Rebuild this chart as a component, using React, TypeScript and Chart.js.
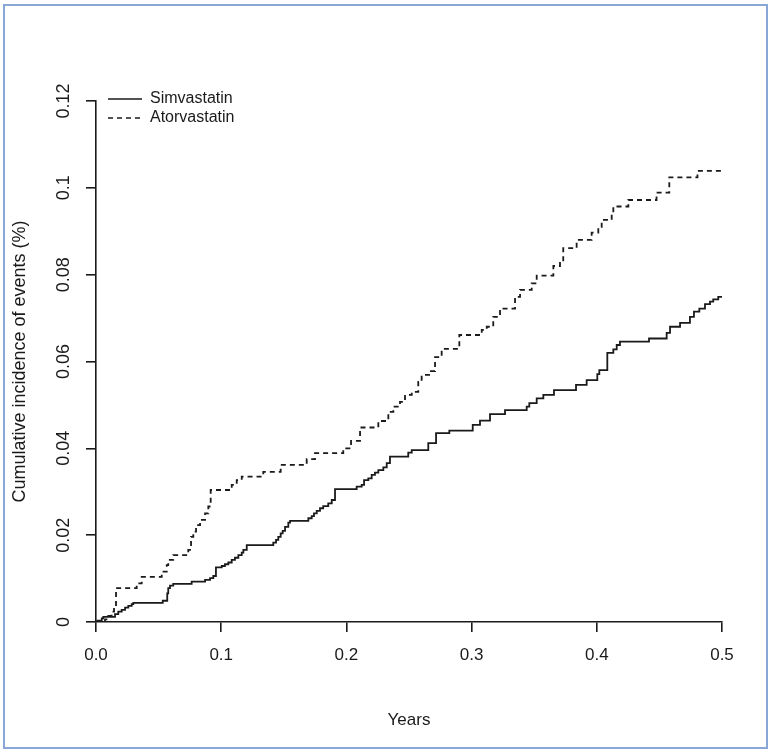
import React, { useEffect, useRef } from "react";
import { Chart, registerables } from "chart.js";

Chart.register(...registerables);

// ---- data ----
const seriesNames = ["Simvastatin", "Atorvastatin"];

const simvYears = [
  0, 0.001, 0.0046, 0.0058, 0.0152, 0.0178, 0.0205, 0.0232, 0.0258, 0.0285,
  0.0298, 0.0533, 0.0569, 0.0577, 0.0591, 0.0617, 0.0764, 0.0871, 0.0911, 0.0937,
  0.0958, 0.1004, 0.103, 0.1057, 0.1084, 0.111, 0.1137, 0.1164, 0.1177, 0.1204,
  0.1416, 0.1438, 0.1456, 0.1475, 0.1491, 0.151, 0.1536, 0.155, 0.1696, 0.1723,
  0.1741, 0.1763, 0.1789, 0.1815, 0.1855, 0.1883, 0.1909, 0.2082, 0.2122, 0.2141,
  0.2175, 0.2202, 0.2228, 0.2255, 0.2295, 0.2322, 0.2348, 0.2494, 0.2522, 0.2654,
  0.2716, 0.2822, 0.3009, 0.3067, 0.3147, 0.3267, 0.344, 0.3461, 0.352, 0.3573,
  0.3658, 0.3834, 0.3919, 0.4004, 0.402, 0.4084, 0.4132, 0.4159, 0.4185, 0.4417,
  0.4558, 0.4585, 0.4665, 0.4744, 0.4776, 0.4819, 0.4864, 0.4904, 0.493, 0.497,
  0.5,
];
const simvIncidence = [
  0, 0.0003, 0.00085, 0.0012, 0.0018, 0.0024, 0.0028, 0.0033, 0.0037, 0.0041,
  0.0044, 0.0049, 0.0066, 0.0078, 0.0084, 0.0088, 0.0093, 0.0097, 0.0101, 0.0106,
  0.0126, 0.0129, 0.0133, 0.0137, 0.0143, 0.0148, 0.0154, 0.016, 0.0166, 0.0177,
  0.0183, 0.0189, 0.0196, 0.0204, 0.021, 0.0219, 0.0229, 0.0233, 0.0239, 0.0244,
  0.025, 0.0256, 0.0262, 0.0267, 0.0273, 0.0281, 0.0306, 0.0312, 0.0316, 0.0327,
  0.0331, 0.0339, 0.0344, 0.035, 0.0356, 0.0366, 0.0381, 0.039, 0.0396, 0.0412,
  0.0435, 0.0441, 0.0454, 0.0464, 0.0479, 0.0488, 0.0496, 0.0504, 0.0515, 0.0523,
  0.0534, 0.0546, 0.0557, 0.0571, 0.058, 0.062, 0.0628, 0.0638, 0.0646, 0.0653,
  0.0666, 0.068, 0.0689, 0.0703, 0.0715, 0.0722, 0.0732, 0.0738, 0.0743, 0.0749,
  0.0749,
];

const atorYears = [
  0, 0.0032, 0.0072, 0.0098, 0.0125, 0.0144, 0.016, 0.0325, 0.0365, 0.0525,
  0.0565, 0.0577, 0.0617, 0.0737, 0.0759, 0.0777, 0.0799, 0.0831, 0.0871, 0.0897,
  0.0916, 0.1084, 0.1124, 0.1164, 0.1336, 0.1475, 0.1683, 0.1749, 0.1975, 0.2037,
  0.2109, 0.2255, 0.2335, 0.2375, 0.2428, 0.2468, 0.2522, 0.2574, 0.2601, 0.2668,
  0.2708, 0.2761, 0.2902, 0.3081, 0.3121, 0.3173, 0.3227, 0.3347, 0.3387, 0.348,
  0.352, 0.3653, 0.3706, 0.3732, 0.3839, 0.3959, 0.4012, 0.4039, 0.4119, 0.4132,
  0.4252, 0.4477, 0.4579, 0.4804, 0.5,
];
const atorIncidence = [
  0, 0.0002, 0.0006, 0.0014, 0.0024, 0.0039, 0.0078, 0.0089, 0.0104, 0.0116,
  0.0131, 0.0143, 0.0154, 0.0166, 0.0196, 0.0208, 0.0223, 0.0235, 0.025, 0.0266,
  0.0304, 0.0316, 0.0327, 0.0335, 0.0346, 0.0362, 0.0375, 0.0389, 0.04, 0.0417,
  0.0448, 0.0463, 0.0484, 0.0496, 0.0507, 0.0523, 0.053, 0.0553, 0.0569, 0.0578,
  0.061, 0.0629, 0.0661, 0.0673, 0.068, 0.0703, 0.0722, 0.0749, 0.0765, 0.078,
  0.0798, 0.082, 0.0833, 0.0861, 0.088, 0.0897, 0.091, 0.0926, 0.0941, 0.0957,
  0.0972, 0.0989, 0.1024, 0.1039, 0.1039,
];

const seriesDash = [[], [5, 4]];

const xTickValues = [0, 0.1, 0.2, 0.3, 0.4, 0.5];
const xTickLabels = ["0.0", "0.1", "0.2", "0.3", "0.4", "0.5"];
const yTickValues = [0, 0.02, 0.04, 0.06, 0.08, 0.1, 0.12];
const yTickLabels = ["0", "0.02", "0.04", "0.06", "0.08", "0.1", "0.12"];
const xTitle = "Years";
const yTitle = "Cumulative incidence of events (%)";

const FONT = "'Liberation Sans', Arial, Helvetica, sans-serif";
const INK = "#1a1a1a";
const LINE_W = 1.8;

export default function App() {
  const ref = useRef<HTMLCanvasElement>(null);

  useEffect(() => {
    const legendNudge = {
      id: "legendNudge",
      afterLayout(chart: any) {
        const lg = chart.legend;
        if (lg) {
          lg.left = chart.chartArea.left + 9;
          lg.top = chart.chartArea.top - 13;
        }
      },
    };

    const baseGen = (Chart.defaults as any).plugins.legend.labels.generateLabels;

    const chart = new Chart(ref.current as HTMLCanvasElement, {
      type: "line",
      data: {
        datasets: [
          {
            label: seriesNames[0],
            data: simvYears.map((x, i) => ({ x, y: simvIncidence[i] })),
            borderColor: INK,
            backgroundColor: INK,
            borderWidth: LINE_W,
            stepped: true,
            pointRadius: 0,
            fill: false,
            borderDash: seriesDash[0],
          },
          {
            label: seriesNames[1],
            data: atorYears.map((x, i) => ({ x, y: atorIncidence[i] })),
            borderColor: INK,
            backgroundColor: INK,
            borderWidth: LINE_W,
            stepped: true,
            pointRadius: 0,
            fill: false,
            borderDash: seriesDash[1],
          },
        ],
      },
      options: {
        responsive: false,
        animation: false,
        devicePixelRatio: 1,
        layout: { padding: { left: 0, top: 101, right: 51, bottom: 0 } },
        plugins: {
          tooltip: { enabled: false },
          legend: {
            display: true,
            position: "chartArea",
            align: "start",
            labels: {
              usePointStyle: true,
              pointStyle: "line",
              pointStyleWidth: 34,
              padding: 3,
              color: INK,
              font: { family: FONT, size: 16 },
              generateLabels: (c: any) =>
                baseGen(c).map((item: any, i: number) => ({
                  ...item,
                  lineDash: seriesDash[i],
                  lineWidth: 1.5,
                  strokeStyle: INK,
                  fillStyle: INK,
                })),
            },
          },
        },
        scales: {
          x: {
            type: "linear",
            min: 0,
            max: 0.5,
            afterBuildTicks: (s: any) => {
              s.ticks = xTickValues.map((v) => ({ value: v }));
            },
            afterFit: (s: any) => {
              s.height = 132;
            },
            ticks: {
              autoSkip: false,
              minRotation: 0,
              maxRotation: 0,
              padding: 13,
              color: INK,
              font: { family: FONT, size: 17 },
              callback: (_v: any, i: number) => xTickLabels[i],
            },
            grid: {
              display: true,
              drawOnChartArea: false,
              drawTicks: true,
              tickLength: 10,
              color: INK,
              lineWidth: 1.6,
            },
            border: { display: true, color: INK, width: 1.6 },
            title: {
              display: true,
              text: xTitle,
              color: INK,
              font: { family: FONT, size: 17 },
              padding: { top: 0, bottom: 23 },
            },
          },
          y: {
            type: "linear",
            min: 0,
            max: 0.12,
            afterBuildTicks: (s: any) => {
              s.ticks = yTickValues.map((v) => ({ value: v }));
            },
            afterFit: (s: any) => {
              s.width = 96;
            },
            ticks: {
              autoSkip: false,
              minRotation: 90,
              maxRotation: 90,
              crossAlign: "center",
              padding: 4,
              color: INK,
              font: { family: FONT, size: 18 },
              callback: (_v: any, i: number) => yTickLabels[i],
            },
            grid: {
              display: true,
              drawOnChartArea: false,
              drawTicks: true,
              tickLength: 10,
              color: INK,
              lineWidth: 1.6,
            },
            border: { display: true, color: INK, width: 1.6 },
            title: {
              display: true,
              text: yTitle,
              color: INK,
              font: { family: FONT, size: 18 },
              padding: { top: 9, bottom: 0 },
            },
          },
        },
      } as any,
      plugins: [legendNudge],
    });
    return () => chart.destroy();
  }, []);

  return (
    <div
      style={{
        position: "fixed",
        left: 0,
        top: 0,
        width: 773,
        height: 754,
        background: "#ffffff",
        overflow: "hidden",
      }}
    >
      <div
        style={{
          position: "absolute",
          left: 3,
          top: 4,
          width: 761,
          height: 741,
          border: "2px solid #88a6d6",
        }}
      />
      <canvas
        ref={ref}
        width={773}
        height={754}
        style={{ position: "absolute", left: 0, top: 0, display: "block" }}
      />
    </div>
  );
}
